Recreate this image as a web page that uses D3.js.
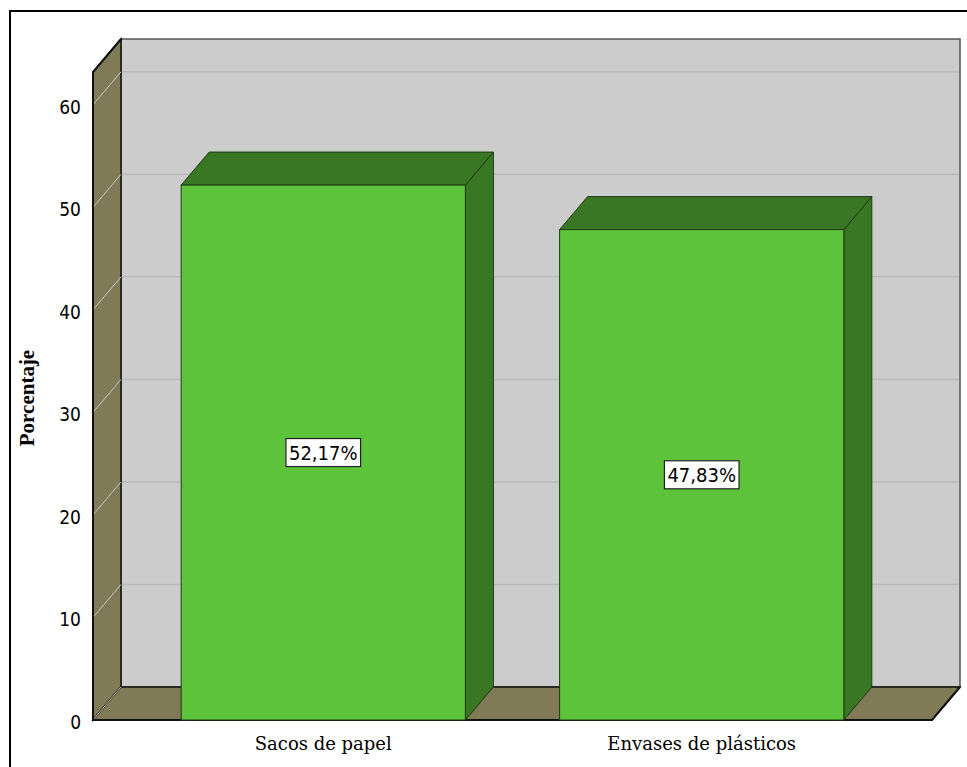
<!DOCTYPE html>
<html>
<head>
<meta charset="utf-8">
<script src="https://cdn.jsdelivr.net/npm/d3@7"></script>
<style>
  body { margin: 0; background: #fff; }
  svg { display: block; }
</style>
</head>
<body>
<svg id="svg" width="967" height="767"></svg>
<script>
// chart data
const categories = ["Sacos de papel", "Envases de plásticos"];
const values = [52.17, 47.83];
const valueLabels = ["52,17%", "47,83%"];
const yTicks = [0, 10, 20, 30, 40, 50, 60];
const yTitle = "Porcentaje";

let svg = d3.select("#svg");

// front plane and depth offset of the 3d box
const plotLeft = 93, plotRight = 932, plotBottom = 720, plotTop = 72;
const dx = 28, dy = -33;

let y = d3.scaleLinear().domain([0, 63.2]).range([plotBottom, plotTop]);
let x = d3.scaleBand()
  .domain(categories)
  .range([plotLeft, plotRight])
  .paddingInner(0.249)
  .paddingOuter(0.233);

let line = d3.line();
const narrowFont = "'DejaVu Sans Condensed', 'Liberation Sans Narrow', sans-serif";

// outer frame
svg.append("rect")
  .attr("x", 10).attr("y", 11)
  .attr("width", 1000).attr("height", 800)
  .style("fill", "none")
  .style("stroke", "#000")
  .style("stroke-width", 2);

// back wall
svg.append("rect")
  .attr("x", plotLeft + dx).attr("y", plotTop + dy)
  .attr("width", plotRight - plotLeft).attr("height", plotBottom - plotTop)
  .style("fill", "#cccccc")
  .style("stroke", "#555")
  .style("stroke-width", 1.5);

// left wall
svg.append("path")
  .attr("d", line([[plotLeft, plotTop], [plotLeft + dx, plotTop + dy], [plotLeft + dx, plotBottom + dy], [plotLeft, plotBottom]]) + "Z")
  .style("fill", "#807a56")
  .style("stroke", "#111")
  .style("stroke-width", 1.5);

// floor
svg.append("path")
  .attr("d", line([[plotLeft, plotBottom], [plotLeft + dx, plotBottom + dy], [plotRight + dx, plotBottom + dy], [plotRight, plotBottom]]) + "Z")
  .style("fill", "#807a56")
  .style("stroke", "#111")
  .style("stroke-width", 1.5);

// gridlines on back wall and left wall
let grid = yTicks.filter((d) => d > 0);
svg.selectAll(".grid-back")
  .data(grid)
  .enter()
  .append("line")
  .attr("x1", plotLeft + dx + 1).attr("x2", plotRight + dx - 1)
  .attr("y1", (d) => y(d) + dy).attr("y2", (d) => y(d) + dy)
  .style("stroke", "#b9b9b9")
  .style("stroke-width", 1.5);

svg.selectAll(".grid-wall")
  .data(yTicks)
  .enter()
  .append("line")
  .attr("x1", plotLeft).attr("x2", plotLeft + dx)
  .attr("y1", (d) => y(d)).attr("y2", (d) => y(d) + dy)
  .style("stroke", "#c8c8c8")
  .style("stroke-width", 1);

// redraw front edges so they sit on top
svg.append("path")
  .attr("d", line([[plotLeft + dx, plotTop + dy], [plotLeft, plotTop], [plotLeft, plotBottom], [plotRight, plotBottom], [plotRight + dx, plotBottom + dy]]))
  .style("fill", "none")
  .style("stroke", "#111")
  .style("stroke-width", 2);

// 3d bars
let bars = svg.selectAll(".bar")
  .data(values)
  .enter()
  .append("g");

// side face
bars.append("path")
  .attr("d", (d, i) => {
    let x1 = x(categories[i]) + x.bandwidth();
    return line([[x1, y(d)], [x1 + dx, y(d) + dy], [x1 + dx, plotBottom + dy], [x1, plotBottom]]) + "Z";
  })
  .style("fill", "#3a7725")
  .style("stroke", "#1c3a12")
  .style("stroke-width", 1);

// top face
bars.append("path")
  .attr("d", (d, i) => {
    let x0 = x(categories[i]);
    let x1 = x0 + x.bandwidth();
    return line([[x0, y(d)], [x0 + dx, y(d) + dy], [x1 + dx, y(d) + dy], [x1, y(d)]]) + "Z";
  })
  .style("fill", "#3a7725")
  .style("stroke", "#1c3a12")
  .style("stroke-width", 1);

// front face
bars.append("rect")
  .attr("x", (d, i) => x(categories[i]))
  .attr("y", (d) => y(d))
  .attr("width", x.bandwidth())
  .attr("height", (d) => plotBottom - y(d))
  .style("fill", "#5dc33a")
  .style("stroke", "#1c3a12")
  .style("stroke-width", 1);

// value labels in boxes
bars.each(function (d, i) {
  let g = d3.select(this);
  let cx = x(categories[i]) + x.bandwidth() / 2;
  let cy = (y(d) + plotBottom) / 2;
  let t = g.append("text")
    .attr("x", cx).attr("y", cy)
    .attr("text-anchor", "middle")
    .attr("dominant-baseline", "central")
    .style("font-family", narrowFont)
    .style("font-size", "20px")
    .style("fill", "#000")
    .text(valueLabels[i]);
  let b = t.node().getBBox();
  g.insert("rect", "text")
    .attr("x", b.x - 3).attr("y", b.y - 2)
    .attr("width", b.width + 6).attr("height", b.height + 4)
    .style("fill", "#fff")
    .style("stroke", "#222")
    .style("stroke-width", 1.2);
});

// y tick labels
svg.selectAll(".tick-label")
  .data(yTicks)
  .enter()
  .append("text")
  .attr("x", 81)
  .attr("y", (d) => y(d) + 2)
  .attr("text-anchor", "end")
  .attr("dominant-baseline", "central")
  .style("font-family", narrowFont)
  .style("font-size", "19px")
  .text((d) => d);

// category labels
svg.selectAll(".cat-label")
  .data(categories)
  .enter()
  .append("text")
  .attr("x", (d) => x(d) + x.bandwidth() / 2)
  .attr("y", 750)
  .attr("text-anchor", "middle")
  .style("font-family", "'DejaVu Serif', serif")
  .style("font-size", "18px")
  .text((d) => d);

// y axis title
svg.append("text")
  .attr("transform", "translate(34,398) rotate(-90)")
  .attr("text-anchor", "middle")
  .style("font-family", "'Liberation Serif', serif")
  .style("font-weight", "bold")
  .style("font-size", "21px")
  .text(yTitle);
</script>
</body>
</html>
